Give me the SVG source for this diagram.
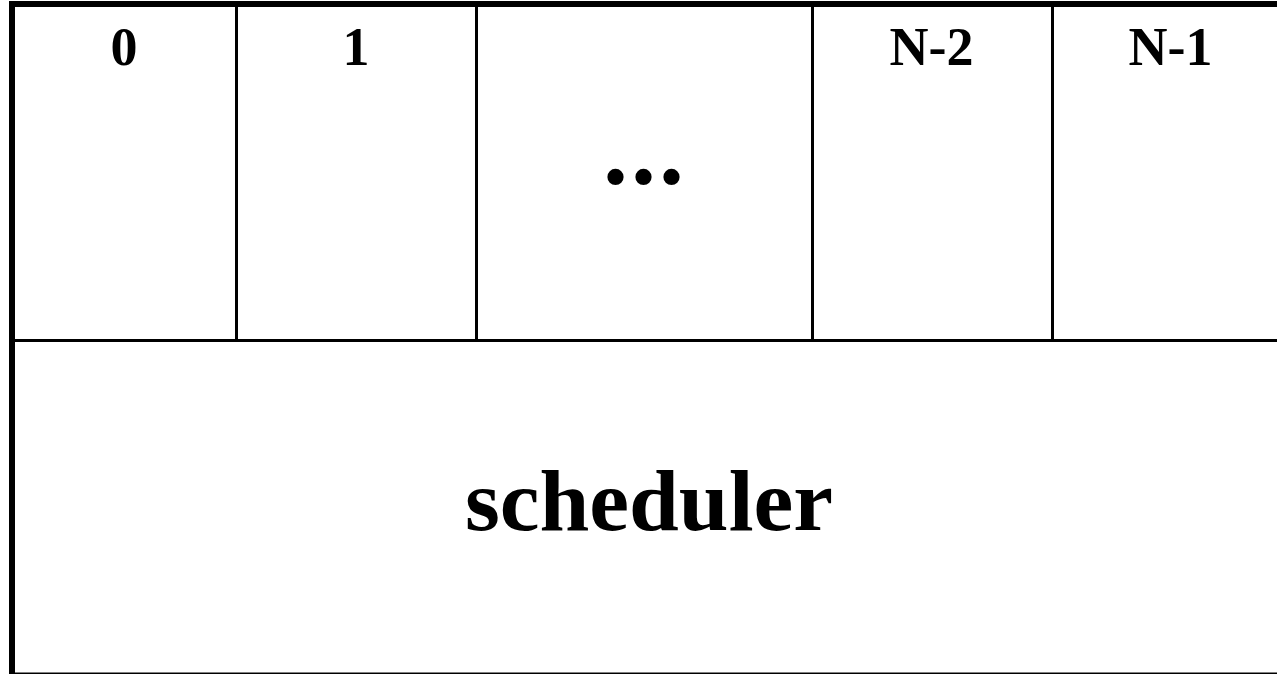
<svg xmlns="http://www.w3.org/2000/svg" width="1277" height="674" viewBox="0 0 1277 674">
<style>
.lbl{font-family:"Liberation Serif","Times New Roman",serif;font-weight:bold;fill:#000;text-anchor:middle}
.num{font-size:54px}
.div{stroke:#000;stroke-width:3;fill:none}
</style>
<rect width="1277" height="674" fill="#fff"/>
<g id="frame">
<rect x="12" y="4" width="1275" height="671.5" fill="none" stroke="#000" stroke-width="6"/>
</g>
<g id="connectors">
<line class="div" x1="236.5" y1="4" x2="236.5" y2="340.5"/>
<line class="div" x1="476.5" y1="4" x2="476.5" y2="340.5"/>
<line class="div" x1="812.5" y1="4" x2="812.5" y2="340.5"/>
<line class="div" x1="1052.5" y1="4" x2="1052.5" y2="340.5"/>
<line class="div" x1="12" y1="340.5" x2="1287" y2="340.5"/>
</g>
<g id="cell0"><text class="lbl num" x="124" y="65">0</text></g>
<g id="cell1"><text class="lbl num" x="356" y="65">1</text></g>
<g id="cellDots"><text class="lbl" x="645" y="184" style="font-size:100px;letter-spacing:3px">...</text></g>
<g id="cellN2"><text class="lbl num" x="931.5" y="65">N-2</text></g>
<g id="cellN1"><text class="lbl num" x="1170.5" y="65">N-1</text></g>
<g id="scheduler"><text class="lbl" x="649" y="530" style="font-size:86px" textLength="368" lengthAdjust="spacingAndGlyphs">scheduler</text></g>
</svg>
